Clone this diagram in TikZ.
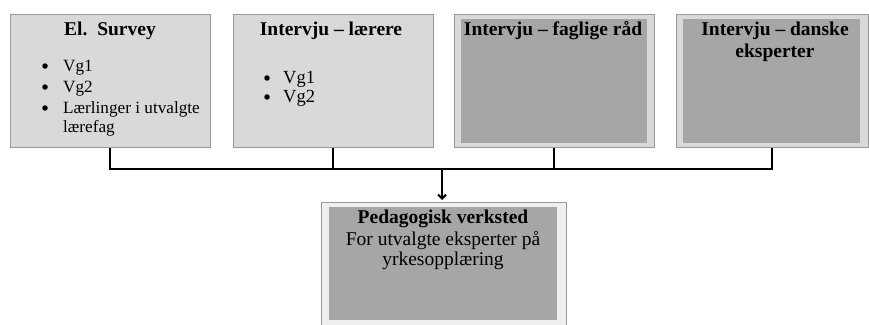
\documentclass[tikz,border=0pt]{standalone}
\usepackage{fontspec}
\setmainfont{Liberation Serif}
\usetikzlibrary{arrows.meta}
\definecolor{lightbox}{HTML}{D9D9D9}
\definecolor{darkbox}{HTML}{A6A6A6}
\definecolor{paleb}{HTML}{EFEFEF}
\definecolor{boxline}{HTML}{999999}
\begin{document}
\begin{tikzpicture}[x=1pt,y=-1pt,
  outerbox/.style={draw=boxline, fill=lightbox, line width=0.8pt, inner sep=0pt, anchor=north west},
  innerbox/.style={draw=none, fill=darkbox, inner sep=0pt, anchor=north west},
  txt/.style={inner sep=0pt, font=\fontsize{19.5}{22}\selectfont},
  ttl/.style={txt, font=\fontsize{19.5}{22}\selectfont\bfseries, anchor=base},
  item/.style={inner sep=0pt, font=\fontsize{17.2}{20}\selectfont, anchor=base west},
  bul/.style={circle, fill=black, inner sep=0pt, minimum size=5.5pt},
  conn/.style={line width=2pt, black}
]
\useasboundingbox (0,0) rectangle (869,324);
\clip (0,0) rectangle (869,324);
% top boxes
\node[outerbox, minimum width=200pt, minimum height=133pt] (b1) at (10,14) {};
\node[outerbox, minimum width=200pt, minimum height=133pt] (b2) at (233,14) {};
\node[outerbox, minimum width=200pt, minimum height=133pt] (b3) at (454,14) {};
\node[innerbox, minimum width=186pt, minimum height=124pt] (i3) at (461,19) {};
\node[outerbox, minimum width=192pt, minimum height=133pt] (b4) at (676,14) {};
\node[innerbox, minimum width=177pt, minimum height=124pt] (i4) at (683,19) {};
% bottom box
\node[outerbox, fill=paleb, minimum width=245pt, minimum height=140pt] (b5) at (321,202) {};
\node[innerbox, minimum width=228pt, minimum height=113pt] (i5) at (329,207) {};
% box 1 text
\node[ttl] (t1) at (110,35) {El.\ \ Survey};
\node[bul] (d11) at (45,66) {};
\node[item] (s11) at (63,71) {Vg1};
\node[bul] (d12) at (45,87) {};
\node[item] (s12) at (63,92) {Vg2};
\node[bul] (d13) at (45,108) {};
\node[item] (s13) at (63,113) {Lærlinger i utvalgte};
\node[item] (s14) at (63,132) {lærefag};
% box 2 text
\node[ttl] (t2) at (331,35) {Intervju – lærere};
\node[bul] (d21) at (267,78) {};
\node[item, font=\fontsize{18.5}{21}\selectfont] (s21) at (283,83) {Vg1};
\node[bul] (d22) at (267,97) {};
\node[item, font=\fontsize{18.5}{21}\selectfont] (s22) at (283,102) {Vg2};
% box 3 text
\node[ttl] (t3) at (553,35) {Intervju – faglige råd};
% box 4 text
\node[ttl] (t4) at (775,35) {Intervju – danske};
\node[ttl] (t4b) at (775,57) {eksperter};
% box 5 text
\node[ttl] (t5) at (443,223) {Pedagogisk verksted};
\node[txt, anchor=base] (t5b) at (443,245) {For utvalgte eksperter på};
\node[txt, anchor=base] (t5c) at (443,265) {yrkesopplæring};
% connectors
\coordinate (j) at (442,169);
\draw[conn] (b1.south) |- (j) -| (b4.south);
\draw[conn] (b2.south) -- (b2.south |- j);
\draw[conn] (b3.south) -- (b3.south |- j);
\draw[conn, -{Straight Barb[length=4pt,width=8pt]}, shorten >=2pt] (j) -- (j |- b5.north);
\end{tikzpicture}
\end{document}
